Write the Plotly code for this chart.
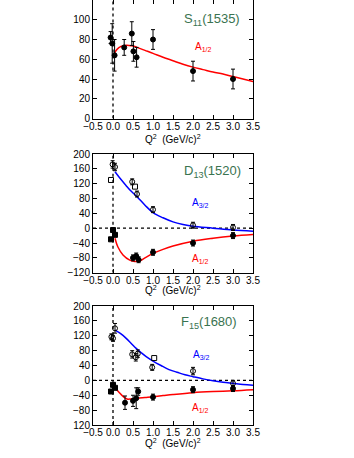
import plotly.graph_objects as go

W, H = 354, 458

# ---------------- S11(1535) ----------------
s11_x = [-0.06, -0.02, 0.04, 0.28, 0.47, 0.51, 0.59, 1.0, 2.0, 3.0]
s11_y = [82, 76, 64, 72, 86, 68, 62, 80, 48, 40]
s11_e = [6, 20, 16, 8, 12, 10, 10, 10, 10, 10]
s11_cx = [0.02, 0.1, 0.2, 0.3, 0.4, 0.5, 0.6, 0.8, 1.0, 1.25, 1.5, 1.75, 2.0, 2.25, 2.5, 2.75, 3.0, 3.25, 3.5]
s11_cy = [65, 70, 73, 74, 74, 73.5, 72, 69, 66, 62, 58.5, 55, 52, 49.5, 47, 45, 42.5, 40, 37.5]

# ---------------- D13(1520) ----------------
d13_a32_x = [-0.01, 0.05, 0.48, 0.6, 1.0, 2.0, 3.0]
d13_a32_y = [172, 165, 125, 92, 50, 8, 2]
d13_a32_e = [10, 10, 8, 8, 8, 8, 8]
d13_a32_sq_x = [-0.05, 0.55]
d13_a32_sq_y = [130, 112]
d13_a12_sq_x = [-0.05, 0.0, 0.05]
d13_a12_sq_y = [-30, -5, -18]
d13_a12_x = [0.5, 0.58, 0.64, 1.0, 2.0, 3.0]
d13_a12_y = [-80, -75, -85, -65, -40, -20]
d13_a12_e = [8, 8, 8, 8, 8, 8]
d13_c32_x = [0.05, 0.15, 0.32, 0.45, 0.6, 0.8, 1.0, 1.25, 1.5, 1.75, 2.0, 2.5, 3.0, 3.5]
d13_c32_y = [152, 138, 116, 100, 85, 62, 42, 28, 17, 10, 5, 0, -5, -8]
d13_c12_x = [0.05, 0.12, 0.25, 0.42, 0.54, 0.67, 0.8, 1.0, 1.25, 1.5, 2.0, 2.5, 3.0, 3.5]
d13_c12_y = [-27, -50, -72, -86, -90, -88, -80, -68, -57, -48, -35, -27, -21, -17]

# ---------------- F15(1680) ----------------
f15_a32_x = [-0.04, 0.0, 0.05, 0.48, 0.57, 0.62, 0.98, 2.0, 3.0]
f15_a32_y = [117, 113, 140, 70, 62, 72, 35, 25, -8]
f15_a32_e = [8, 8, 13, 10, 10, 10, 8, 10, 8]
f15_a32_sq_x = [1.03]
f15_a32_sq_y = [60]
f15_a12_sq_x = [-0.05, 0.0, 0.05]
f15_a12_sq_y = [-30, -12, -20]
f15_a12_x = [0.3, 0.5, 0.58, 0.63, 1.0, 2.0, 3.0]
f15_a12_y = [-60, -55, -48, -30, -45, -25, -22]
f15_a12_e = [18, 15, 28, 10, 8, 8, 8]
f15_c32_x = [0.05, 0.2, 0.33, 0.45, 0.58, 0.7, 0.83, 1.0, 1.2, 1.4, 1.6, 1.8, 2.0, 2.25, 2.5, 2.75, 3.0, 3.25, 3.5]
f15_c32_y = [135, 125, 113, 100, 86, 75, 64, 52, 40, 29, 22, 15, 10, 4, -1, -5, -8, -11, -13]
f15_c12_x = [0.05, 0.15, 0.25, 0.35, 0.45, 0.6, 0.8, 1.0, 1.25, 1.5, 2.0, 2.5, 3.0, 3.5]
f15_c12_y = [-20, -32, -43, -50, -50, -48, -46, -44, -41, -38, -33, -30, -28, -25]

x_ticks = [-0.5, 0.0, 0.5, 1.0, 1.5, 2.0, 2.5, 3.0, 3.5]
x_ticktext = ["\u22120.5", "0.0", "0.5", "1.0", "1.5", "2.0", "2.5", "3.0", "3.5"]
y1_ticks = [0, 20, 40, 60, 80, 100, 120]
y23_ticks = [-120, -80, -40, 0, 40, 80, 120, 160, 200]
y2_ticktext = ["\u2212120", "\u221280", "\u221240", "0", "40", "80", "120", "160", "200"]
y3_ticktext = ["120", "\u221280", "\u221240", "0", "40", "80", "120", "160", "200"]

fig = go.Figure()

def pts(x, y, e, axis, filled=True, symbol="circle"):
    kw = dict(x=x, y=y, mode="markers", xaxis="x" + axis, yaxis="y" + axis, showlegend=False,
              marker=dict(symbol=symbol if filled else symbol + "-open", size=5, color="black",
                          line=dict(color="black", width=1)))
    if e is not None:
        kw["error_y"] = dict(type="data", array=e, visible=True, color="black", thickness=1, width=2)
    fig.add_trace(go.Scatter(**kw))

def curve(x, y, axis, color):
    fig.add_trace(go.Scatter(x=x, y=y, mode="lines", xaxis="x" + axis, yaxis="y" + axis,
                             showlegend=False, line=dict(color=color, width=1.5), line_shape="spline"))

def zero_lines(axis, yr, horiz):
    fig.add_trace(go.Scatter(x=[0, 0], y=yr, mode="lines", xaxis="x" + axis, yaxis="y" + axis,
                             showlegend=False, line=dict(color="black", width=1.3, dash="dot"), hoverinfo="skip"))
    if horiz:
        fig.add_trace(go.Scatter(x=[-0.5, 3.5], y=[0, 0], mode="lines", xaxis="x" + axis, yaxis="y" + axis,
                                 showlegend=False, line=dict(color="black", width=1.3, dash="dot"), hoverinfo="skip"))

# panel 1
zero_lines("", [0, 120], False)
curve(s11_cx, s11_cy, "", "red")
pts(s11_x, s11_y, s11_e, "")
# panel 2
zero_lines("2", [-120, 200], True)
curve(d13_c32_x, d13_c32_y, "2", "blue")
curve(d13_c12_x, d13_c12_y, "2", "red")
pts(d13_a32_x, d13_a32_y, d13_a32_e, "2", filled=False)
pts(d13_a32_sq_x, d13_a32_sq_y, None, "2", filled=False, symbol="square")
pts(d13_a12_sq_x, d13_a12_sq_y, None, "2", symbol="square")
pts(d13_a12_x, d13_a12_y, d13_a12_e, "2")
# panel 3
zero_lines("3", [-120, 200], True)
curve(f15_c32_x, f15_c32_y, "3", "blue")
curve(f15_c12_x, f15_c12_y, "3", "red")
pts(f15_a32_x, f15_a32_y, f15_a32_e, "3", filled=False)
pts(f15_a32_sq_x, f15_a32_sq_y, None, "3", filled=False, symbol="square")
pts(f15_a12_sq_x, f15_a12_sq_y, None, "3", symbol="square")
pts(f15_a12_x, f15_a12_y, f15_a12_e, "3")

tickfont = dict(family="Liberation Sans, Arial, sans-serif", size=10, color="black")
xdom = [93 / W, 253 / W]

def xaxis(anchor):
    return dict(domain=xdom, range=[-0.5, 3.5], tickvals=x_ticks, ticktext=x_ticktext, ticks="inside",
                ticklen=4, tickwidth=1, tickcolor="black", showline=True, linecolor="black", linewidth=1,
                mirror="ticks", showgrid=False, zeroline=False, tickfont=tickfont, anchor=anchor,
                tickangle=0, automargin=False, ticklabelstandoff=-2)

def yaxis(anchor, top, bot, rng, vals, text):
    return dict(domain=[1 - bot / H, 1 - top / H], range=rng, tickvals=vals, ticktext=text, ticks="inside",
                ticklen=4, tickwidth=1, tickcolor="black", showline=True, linecolor="black", linewidth=1,
                mirror="ticks", showgrid=False, zeroline=False, tickfont=tickfont, anchor=anchor,
                automargin=False)

fig.update_layout(
    width=W, height=H, margin=dict(l=0, r=0, t=0, b=0, autoexpand=False),
    paper_bgcolor="white", plot_bgcolor="white",
    xaxis=xaxis("y"), xaxis2=xaxis("y2"), xaxis3=xaxis("y3"),
    yaxis=yaxis("x", 0, 118.5, [0, 120], y1_ticks, [str(v) for v in y1_ticks]),
    yaxis2=yaxis("x2", 154, 272.7, [-120, 200], y23_ticks, y2_ticktext),
    yaxis3=yaxis("x3", 306, 425, [-120, 200], y23_ticks, y3_ticktext),
)

def ann(text, px, py, color, size):
    fig.add_annotation(text=text, x=px / W, y=1 - py / H, xref="paper", yref="paper", showarrow=False,
                       xanchor="center", yanchor="middle",
                       font=dict(family="Liberation Sans, Arial, sans-serif", size=size, color=color))

green = "#3a7350"
ann("S<sub>11</sub>(1535)", 212, 19, green, 13)
ann("A<sub>1/2</sub>", 203, 47, "red", 10)
ann("D<sub>13</sub>(1520)", 212, 171, green, 13)
ann("A<sub>3/2</sub>", 200, 203, "blue", 10)
ann("A<sub>1/2</sub>", 200, 259, "red", 10)
ann("F<sub>15</sub>(1680)", 209, 322, green, 13)
ann("A<sub>3/2</sub>", 201, 355, "blue", 10)
ann("A<sub>1/2</sub>", 200, 408, "red", 10)
for yy in (139, 290, 443):
    ann("Q<sup>2</sup>  (GeV/c)<sup>2</sup>", 173, yy, "black", 10)

fig.write_html("out.html", config={"displayModeBar": False},
               post_script="document.body.style.margin='0px';")
